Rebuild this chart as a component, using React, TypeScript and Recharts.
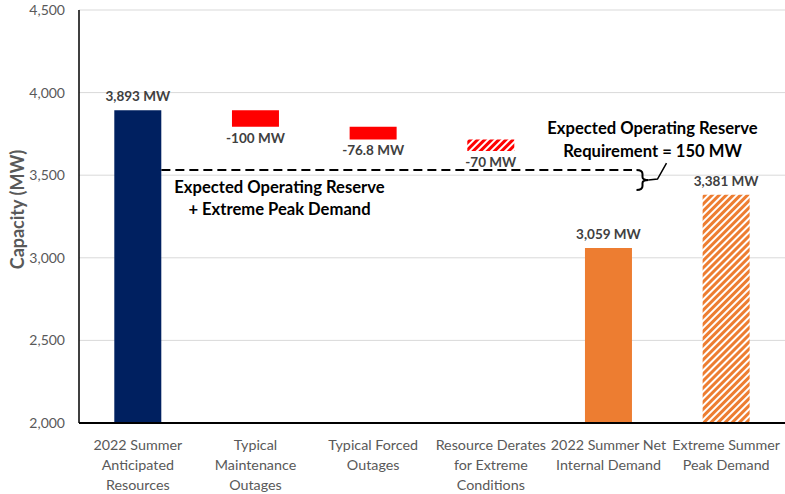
import React from 'react';
import { BarChart, Bar, XAxis, YAxis, CartesianGrid, Cell, LabelList, ReferenceLine, ReferenceDot } from 'recharts';

// categories (line breaks as in the original axis)
const categories = [
    '2022 Summer\nAnticipated\nResources',
    'Typical\nMaintenance\nOutages',
    'Typical Forced\nOutages',
    'Resource Derates\nfor Extreme\nConditions',
    '2022 Summer Net\nInternal Demand',
    'Extreme Summer\nPeak Demand',
];
const values = [3893, -100, -76.8, -70, 3059, 3381];
const isTotal = [true, false, false, false, true, true];
const barFills = ['#002060', '#FF0000', '#FF0000', 'url(#hatchRed)', '#ED7D31', 'url(#hatchOrange)'];
const yTicks = [2000, 2500, 3000, 3500, 4000, 4500];
const reserveRequirement = 150;
const reserveLevel = values[5] + reserveRequirement;

const AXIS_MIN = 2000;
const FONT = 'Lato, "Open Sans", sans-serif';

let running = AXIS_MIN;
const data = categories.map((name, i) => {
    const v = values[i];
    let range: number[];
    if (isTotal[i]) {
        range = [AXIS_MIN, v];
        running = v;
    } else {
        range = [running + v, running];
        running = running + v;
    }
    return { name, range };
});

const fmt = (v: number) => v.toLocaleString('en-US', { maximumFractionDigits: 1 });

const BarValueLabel = (props: any) => {
    const { x, y, width, height, index } = props;
    const v = values[index];
    const top = Math.min(y, y + height);
    const bottom = Math.max(y, y + height);
    const below = v < 0;
    return (
        <text
            x={x + width / 2}
            y={below ? bottom + 11 : top - 14}
            dy="0.35em"
            textAnchor="middle"
            fill="#404040"
            fontSize={13.5}
            fontWeight={700}
            fontFamily={FONT}
        >
            {fmt(v)} MW
        </text>
    );
};

const CategoryTick = (props: any) => {
    const { x, y, payload } = props;
    const lines = String(payload.value).split('\n');
    return (
        <text x={x} y={y} textAnchor="middle" fill="#595959" fontSize={14.3} fontFamily={FONT}>
            {lines.map((l, i) => (
                <tspan key={i} x={x} dy={i === 0 ? 25 : 20}>{l}</tspan>
            ))}
        </text>
    );
};

const YAxisTitle = (props: any) => {
    const { viewBox } = props;
    const cx = viewBox.x + 17;
    const cy = viewBox.y + viewBox.height / 2 - 7;
    return (
        <text
            x={cx}
            y={cy}
            transform={`rotate(-90 ${cx} ${cy})`}
            textAnchor="middle"
            dominantBaseline="central"
            fill="#595959"
            fontSize={18}
            fontWeight={700}
            fontFamily={FONT}
        >
            Capacity (MW)
        </text>
    );
};

const noteText = (lines: string[], spacing: number, dx: number) => (p: any) => (
    <text x={p.cx + dx} y={p.cy} textAnchor="middle" fill="#000" fontSize={16.6} fontWeight={700} fontFamily={FONT}>
        {lines.map((l, i) => (
            <tspan key={i} x={p.cx + dx} dy={i === 0 ? '0.35em' : spacing}>{l}</tspan>
        ))}
    </text>
);

// dashed reserve line: segment spans first..last category centres, trimmed to
// the right edge of the first bar and just short of the last-but-one band
const ReserveLine = (p: any) => {
    const { x1, x2, y1 } = p;
    const band = (x2 - x1) / (categories.length - 1);
    return (
        <line
            x1={x1 + 0.2 * band}
            x2={x1 + 4.2 * band}
            y1={y1}
            y2={y1}
            stroke="#000"
            strokeWidth={2}
            strokeDasharray="9 5"
        />
    );
};

const Brace = (p: any) => {
    const { x1, y1, y2 } = p;
    const x = x1 + 28;
    const ym = (y1 + y2) / 2;
    const d = `M ${x} ${y1} Q ${x + 6} ${y1} ${x + 6} ${y1 + 4} L ${x + 6} ${ym - 3} Q ${x + 6} ${ym} ${x + 12} ${ym}` +
        ` Q ${x + 6} ${ym} ${x + 6} ${ym + 3} L ${x + 6} ${y2 - 4} Q ${x + 6} ${y2} ${x} ${y2}`;
    const lead = `M ${x + 12} ${ym} L ${x + 21} ${ym - 1} L ${x + 30} ${ym - 17}`;
    return (
        <g>
            <path d={d} fill="none" stroke="#000" strokeWidth={2} />
            <path d={lead} fill="none" stroke="#000" strokeWidth={1.5} />
        </g>
    );
};

export default function App() {
    return (
        <div style={{ position: 'absolute', left: 0, top: 0, background: '#fff' }}>
            <BarChart
                width={785}
                height={494}
                data={data}
                margin={{ top: 10, right: 0, bottom: 0, left: 0 }}
                barCategoryGap="30%"
            >
                <defs>
                    <pattern id="hatchOrange" width="5" height="5" patternUnits="userSpaceOnUse" patternTransform="rotate(45)">
                        <rect width="5" height="5" fill="#fff" />
                        <rect width="3" height="5" fill="#ED7D31" />
                    </pattern>
                    <pattern id="hatchRed" width="5" height="5" patternUnits="userSpaceOnUse" patternTransform="rotate(45)">
                        <rect width="5" height="5" fill="#fff" />
                        <rect width="3" height="5" fill="#FF0000" />
                    </pattern>
                </defs>
                <CartesianGrid vertical={false} stroke="#D9D9D9" />
                <XAxis
                    dataKey="name"
                    interval={0}
                    tickLine={false}
                    tickSize={0}
                    height={71}
                    axisLine={{ stroke: '#000', strokeWidth: 2 }}
                    tick={<CategoryTick />}
                />
                <YAxis
                    width={79}
                    domain={[AXIS_MIN, 4500]}
                    ticks={yTicks}
                    allowDataOverflow
                    tickLine={false}
                    tickSize={0}
                    tickMargin={14}
                    tickFormatter={(v: number) => v.toLocaleString('en-US')}
                    tick={{ fill: '#595959', fontSize: 14, fontFamily: FONT }}
                    axisLine={{ stroke: '#000', strokeWidth: 1.5 }}
                    label={<YAxisTitle />}
                />
                <Bar dataKey="range" isAnimationActive={false}>
                    {data.map((d, i) => (
                        <Cell key={d.name} fill={barFills[i]} />
                    ))}
                    <LabelList dataKey="range" content={<BarValueLabel />} />
                </Bar>
                <ReferenceLine
                    segment={[{ x: categories[0], y: reserveLevel }, { x: categories[5], y: reserveLevel }]}
                    shape={ReserveLine}
                />
                <ReferenceLine
                    segment={[{ x: categories[4], y: reserveLevel }, { x: categories[4], y: 3410 }]}
                    shape={Brace}
                />
                <ReferenceDot
                    x={categories[1]}
                    y={3430}
                    shape={noteText(['Expected Operating Reserve', '+ Extreme Peak Demand'], 22, 24)}
                />
                <ReferenceDot
                    x={categories[4]}
                    y={3784}
                    shape={noteText(['Expected Operating Reserve', 'Requirement = 150 MW'], 23, 44)}
                />
            </BarChart>
        </div>
    );
}
